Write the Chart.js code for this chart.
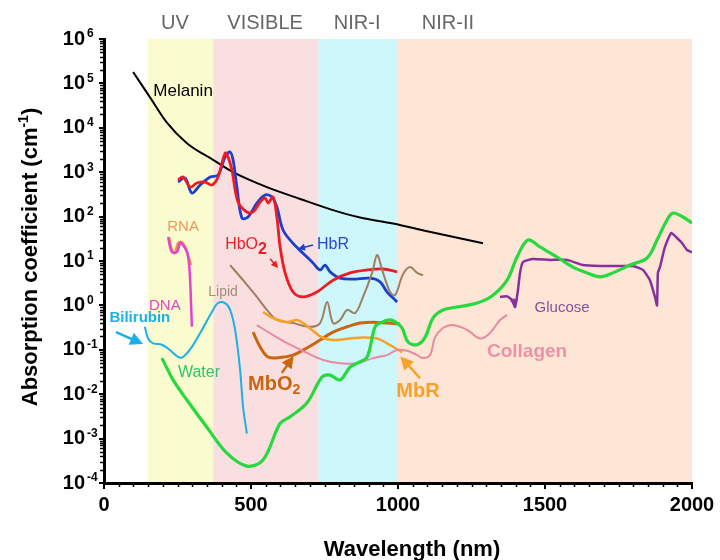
<!DOCTYPE html>
<html>
<head>
<meta charset="utf-8">
<script src="https://cdn.jsdelivr.net/npm/chart.js@4.4.1/dist/chart.umd.min.js"></script>
<style>
  html, body { margin: 0; padding: 0; background: #fff; }
  canvas { display: block; }
</style>
</head>
<body>
<canvas id="chart" width="720" height="560"></canvas>
<script>
// wavelength (nm) / absorption coefficient (cm^-1)
const melaninX = [99, 156, 214, 282, 371, 439, 554, 667, 779, 871, 983, 1099, 1289];
const melaninY = [1.8e5, 4.9e4, 1.3e4, 4.5e3, 1.9e3, 1.0e3, 460, 250, 140, 95, 70, 47, 25];

const hbo2X = [252, 269, 293, 316, 344, 367, 388, 412, 422, 435, 456, 486, 507, 531, 548, 558, 575, 588, 599, 616, 643, 677, 724, 779, 837, 895, 949, 997];
const hbo2Y = [667, 780, 465, 571, 601, 515, 780, 2700, 2200, 1120, 213, 127, 127, 213, 262, 202, 276, 98, 20.7, 5.4, 2.0, 1.55, 2.0, 3.7, 5.4, 6.3, 6.6, 5.7];

const hbrX = [252, 276, 299, 327, 361, 388, 412, 429, 439, 452, 469, 490, 520, 548, 571, 588, 609, 643, 677, 711, 735, 752, 769, 803, 847, 905, 939, 963, 997];
const hbrY = [601, 740, 340, 515, 780, 865, 2200, 2850, 1880, 465, 93, 98, 202, 306, 276, 164, 50, 25, 15, 9.0, 6.3, 8.1, 5.7, 4.1, 3.9, 4.1, 3.4, 2.0, 1.2];

const lipidX = [429, 473, 520, 554, 588, 643, 701, 735, 759, 779, 803, 827, 854, 881, 912, 929, 946, 973, 990, 1017, 1041, 1065, 1085];
const lipidY = [8.1, 3.7, 1.55, 0.79, 0.47, 0.40, 0.33, 0.40, 1.2, 0.40, 0.47, 0.79, 0.67, 1.55, 5.4, 13.6, 6.3, 2.0, 1.7, 5.0, 7.3, 5.4, 4.8];

const rnaX = [221, 231, 241, 252, 265, 276, 286, 296];
const rnaY = [34.7, 17.7, 15.1, 25.4, 26.8, 20.7, 13.6, 8.1];

const dnaX = [218, 231, 248, 259, 269, 282, 289, 293, 296, 299];
const dnaY = [34.7, 16, 16, 25.4, 22.9, 16, 9.0, 3.7, 1.13, 0.33];

const bilirubinX = [139, 150, 167, 197, 224, 252, 269, 299, 333, 367, 388, 412, 429, 446, 463, 473, 486];
const bilirubinY = [0.33, 0.18, 0.14, 0.13, 0.099, 0.069, 0.069, 0.116, 0.28, 0.71, 1.13, 1.13, 0.79, 0.28, 0.035, 0.0052, 0.0013];

const waterX = [197, 235, 282, 350, 418, 486, 541, 599, 633, 690, 741, 769, 803, 837, 861, 895, 922, 946, 973, 997, 1014, 1034, 1065, 1092, 1119, 1153, 1201, 1269, 1323, 1371, 1405, 1442, 1483, 1541, 1595, 1643, 1687, 1731, 1789, 1847, 1881, 1915, 1935, 1969, 2000];
const waterY = [0.065, 0.021, 0.0074, 0.0018, 4.7e-4, 2.4e-4, 3.3e-4, 0.0022, 0.0031, 0.0063, 0.024, 0.027, 0.021, 0.041, 0.050, 0.069, 0.33, 0.42, 0.47, 0.40, 0.31, 0.15, 0.13, 0.19, 0.52, 0.79, 0.92, 1.13, 1.7, 3.7, 12.3, 29.7, 20.7, 12.3, 7.3, 5.4, 4.4, 5.4, 8.1, 11.7, 29.7, 84, 120, 98, 72];

const glucoseX = [1347, 1371, 1388, 1398, 1408, 1415, 1425, 1459, 1517, 1575, 1629, 1687, 1745, 1799, 1833, 1857, 1874, 1881, 1884, 1891, 1908, 1929, 1949, 1966, 1983, 2000];
const glucoseY = [1.55, 1.6, 1.32, 0.92, 2.2, 5.4, 9.5, 11.1, 10.6, 10.6, 8.1, 7.7, 7.7, 7.7, 6.3, 3.7, 1.55, 1.0, 5.4, 7.3, 20.7, 42.7, 33, 25.4, 17.7, 15.7];

const collagenX = [520, 575, 633, 690, 745, 803, 861, 915, 963, 997, 1031, 1065, 1085, 1109, 1126, 1153, 1187, 1235, 1279, 1313, 1347, 1371];
const collagenY = [0.36, 0.215, 0.13, 0.085, 0.059, 0.050, 0.050, 0.065, 0.076, 0.099, 0.095, 0.076, 0.065, 0.076, 0.19, 0.31, 0.36, 0.28, 0.18, 0.24, 0.47, 0.61];

const mbo2X = [507, 531, 558, 599, 643, 690, 735, 779, 827, 871, 915, 963, 1007];
const mbo2Y = [0.25, 0.116, 0.069, 0.067, 0.076, 0.11, 0.166, 0.25, 0.33, 0.40, 0.42, 0.40, 0.38];

const mbrX = [541, 575, 622, 656, 677, 707, 741, 779, 837, 881, 929, 963, 990, 1014];
const mbrY = [0.71, 0.52, 0.42, 0.47, 0.40, 0.28, 0.19, 0.166, 0.18, 0.19, 0.18, 0.14, 0.11, 0.089];

// spectral regions (nm)
const bandNames = ['UV', 'VISIBLE', 'NIR-I', 'NIR-II'];
const bandCenters = [241, 548, 861, 1170];
const bandEdges = [150, 372, 730, 1000, 2000];
const bandColors = ['#fbfbd0', '#f9dfdf', '#cdf7fb', '#fde6d5'];

const xTicks = [0, 500, 1000, 1500, 2000];
const yExponents = [-4, -3, -2, -1, 0, 1, 2, 3, 4, 5, 6];

const FONT = '"Liberation Sans", Arial, Helvetica, sans-serif';

function pts(xs, ys) {
    return xs.map((x, i) => ({ x: x, y: ys[i] }));
}

function series(xs, ys, color, width, tension) {
    return {
        data: pts(xs, ys),
        borderColor: color,
        borderWidth: width,
        pointRadius: 0,
        fill: false,
        tension: tension === undefined ? 0.35 : tension
    };
}

const melanin = series(melaninX, melaninY, '#000000', 2);
melanin.cubicInterpolationMode = 'monotone';

const datasets = [
    series(waterX, waterY, '#27d83f', 3.2),
    series(collagenX, collagenY, '#e98aa0', 2),
    series(mbrX, mbrY, '#f7a128', 2.5),
    series(mbo2X, mbo2Y, '#c9650f', 3),
    series(lipidX, lipidY, '#a07e62', 2),
    series(bilirubinX, bilirubinY, '#1cb0e6', 2),
    series(dnaX, dnaY, '#e344cc', 2.5),
    series(rnaX, rnaY, '#f39453', 2.5),
    series(glucoseX, glucoseY, '#87309a', 2.5, 0.15),
    series(hbo2X, hbo2Y, '#ec1c24', 2.8),
    series(hbrX, hbrY, '#1d3fcb', 2.8),
    melanin
];

// text labels: x in nm, e = log10 of the value
const labels = [
    { parts: [['Melanin', 'normal', 17]], x: 269, e: 4.83, color: '#000' },
    { parts: [['RNA', 'normal', 15]], x: 269, e: 1.77, color: '#f0975c' },
    { parts: [['HbO', 'normal', 16], ['2', 'bold', 16, 5]], x: 412, e: 1.38, color: '#e8202a', align: 'left' },
    { parts: [['HbR', 'normal', 16]], x: 779, e: 1.38, color: '#2a4acc' },
    { parts: [['Lipid', 'normal', 14]], x: 405, e: 0.30, color: '#a38e7c' },
    { parts: [['DNA', 'normal', 15]], x: 207, e: -0.01, color: '#e044c8' },
    { parts: [['Bilirubin', 'bold', 15]], x: 122, e: -0.28, color: '#1cb0e6' },
    { parts: [['Water', 'normal', 16]], x: 323, e: -1.52, color: '#2cc46c' },
    { parts: [['MbO', 'bold', 20], ['2', 'bold', 14, 6]], x: 490, e: -1.77, color: '#c9650f', align: 'left' },
    { parts: [['MbR', 'bold', 20]], x: 1068, e: -1.95, color: '#f7a128' },
    { parts: [['Collagen', 'bold', 19]], x: 1439, e: -1.05, color: '#ee91a6' },
    { parts: [['Glucose', 'normal', 15]], x: 1558, e: -0.06, color: '#87509e' }
];

// arrows: from (x1,e1) to head at (x2,e2)
const arrows = [
    { x1: 711, e1: 1.36, x2: 660, e2: 1.27, color: '#1d3fcb', head: 7 },
    { x1: 565, e1: 1.05, x2: 592, e2: 0.84, color: '#ec1c24', head: 7 },
    { x1: 41, e1: -0.60, x2: 133, e2: -0.87, color: '#1cb0e6', head: 13 },
    { x1: 605, e1: -1.52, x2: 645, e2: -1.14, color: '#c9650f', head: 12 },
    { x1: 1075, e1: -1.64, x2: 1008, e2: -1.15, color: '#f7a128', head: 13 },
    { x1: 1394, e1: 0.16, x2: 1398, e2: -0.05, color: '#87309a', head: 8 }
];

function drawParts(ctx, parts, x, y, align, color) {
    let total = 0;
    parts.forEach(p => {
        ctx.font = p[1] + ' ' + p[2] + 'px ' + FONT;
        total += ctx.measureText(p[0]).width;
    });
    let cx = align === 'left' ? x : x - total / 2;
    ctx.fillStyle = color;
    ctx.textAlign = 'left';
    ctx.textBaseline = 'middle';
    parts.forEach(p => {
        ctx.font = p[1] + ' ' + p[2] + 'px ' + FONT;
        ctx.fillText(p[0], cx, y + (p[3] || 0));
        cx += ctx.measureText(p[0]).width;
    });
}

const bandsPlugin = {
    id: 'bands',
    beforeDraw(chart) {
        const ctx = chart.ctx;
        const area = chart.chartArea;
        const xs = chart.scales.x;
        ctx.save();
        for (let i = 0; i < bandColors.length; i++) {
            const a = xs.getPixelForValue(bandEdges[i]);
            const b = xs.getPixelForValue(bandEdges[i + 1]);
            ctx.fillStyle = bandColors[i];
            ctx.fillRect(a, area.top, b - a, area.bottom - area.top);
        }
        ctx.restore();
    }
};

const decorPlugin = {
    id: 'decor',
    afterDraw(chart) {
        const ctx = chart.ctx;
        const area = chart.chartArea;
        const xs = chart.scales.x;
        const ys = chart.scales.y;
        ctx.save();

        // minor ticks
        ctx.strokeStyle = '#000';
        ctx.lineWidth = 1.5;
        ctx.beginPath();
        for (let v = 50; v < 2000; v += 50) {
            if (v % 500 === 0) continue;
            const p = Math.round(xs.getPixelForValue(v)) + 0.5;
            ctx.moveTo(p, area.bottom + 1);
            ctx.lineTo(p, area.bottom + 4);
        }
        for (let d = -4; d < 6; d++) {
            for (let k = 2; k < 10; k++) {
                const p = Math.round(ys.getPixelForValue(k * Math.pow(10, d))) + 0.5;
                ctx.moveTo(area.left - 1, p);
                ctx.lineTo(area.left - 4, p);
            }
        }
        ctx.stroke();

        // tick labels
        ctx.fillStyle = '#000';
        ctx.textBaseline = 'middle';
        xTicks.forEach(v => {
            ctx.font = 'bold 20px ' + FONT;
            ctx.textAlign = 'center';
            ctx.fillText(String(v), xs.getPixelForValue(v), area.bottom + 22);
        });
        yExponents.forEach(e => {
            const p = ys.getPixelForValue(Math.pow(10, e));
            ctx.font = 'bold 20px ' + FONT;
            ctx.textAlign = 'right';
            ctx.fillText('10', area.left - 19, p);
            ctx.font = 'bold 12px ' + FONT;
            ctx.textAlign = 'left';
            ctx.fillText(String(e), area.left - 17, p - 5);
        });

        // axis titles
        drawParts(ctx, [['Wavelength (nm)', 'bold', 22]], area.left + 308, area.bottom + 67, 'center', '#000');
        ctx.translate(area.left - 73, area.top + 218);
        ctx.rotate(-Math.PI / 2);
        drawParts(ctx, [['Absorption coefficient (cm', 'bold', 22], ['-1', 'bold', 14, -7], [')', 'bold', 22]], 0, 0, 'center', '#000');
        ctx.setTransform(1, 0, 0, 1, 0, 0);

        // region names
        bandNames.forEach((name, i) => {
            drawParts(ctx, [[name, 'normal', 20]], xs.getPixelForValue(bandCenters[i]), area.top - 16, 'center', '#666666');
        });

        // curve labels
        labels.forEach(l => {
            drawParts(ctx, l.parts, xs.getPixelForValue(l.x), ys.getPixelForValue(Math.pow(10, l.e)), l.align || 'center', l.color);
        });

        // arrows
        arrows.forEach(a => {
            const x1 = xs.getPixelForValue(a.x1), y1 = ys.getPixelForValue(Math.pow(10, a.e1));
            const x2 = xs.getPixelForValue(a.x2), y2 = ys.getPixelForValue(Math.pow(10, a.e2));
            const ang = Math.atan2(y2 - y1, x2 - x1);
            const h = a.head;
            ctx.strokeStyle = a.color;
            ctx.fillStyle = a.color;
            ctx.lineWidth = h > 10 ? 2.5 : 1.5;
            ctx.beginPath();
            ctx.moveTo(x1, y1);
            ctx.lineTo(x2 - Math.cos(ang) * h * 0.8, y2 - Math.sin(ang) * h * 0.8);
            ctx.stroke();
            ctx.beginPath();
            ctx.moveTo(x2, y2);
            ctx.lineTo(x2 - Math.cos(ang) * h + Math.sin(ang) * h * 0.5, y2 - Math.sin(ang) * h - Math.cos(ang) * h * 0.5);
            ctx.lineTo(x2 - Math.cos(ang) * h - Math.sin(ang) * h * 0.5, y2 - Math.sin(ang) * h + Math.cos(ang) * h * 0.5);
            ctx.closePath();
            ctx.fill();
        });

        ctx.restore();
    }
};

const ctx = document.getElementById('chart').getContext('2d');
new Chart(ctx, {
    type: 'line',
    data: { datasets: datasets },
    options: {
        responsive: false,
        animation: false,
        layout: { padding: { left: 0, top: 39, right: 28, bottom: 0 } },
        plugins: {
            legend: { display: false },
            tooltip: { enabled: false }
        },
        scales: {
            x: {
                type: 'linear',
                min: 0,
                max: 2000,
                afterBuildTicks: scale => { scale.ticks = xTicks.map(v => ({ value: v })); },
                afterFit: scale => { scale.height = 77; },
                ticks: { display: false },
                grid: { drawOnChartArea: false, drawTicks: true, tickLength: 6, color: '#000', lineWidth: 2 },
                border: { color: '#000', width: 3 }
            },
            y: {
                type: 'logarithmic',
                min: 1e-4,
                max: 1e6,
                afterBuildTicks: scale => { scale.ticks = yExponents.map(e => ({ value: Math.pow(10, e) })); },
                afterFit: scale => { scale.width = 104; },
                ticks: { display: false },
                grid: { drawOnChartArea: false, drawTicks: true, tickLength: 5, color: '#000', lineWidth: 2 },
                border: { color: '#000', width: 3 }
            }
        }
    },
    plugins: [bandsPlugin, decorPlugin]
});
</script>
</body>
</html>
